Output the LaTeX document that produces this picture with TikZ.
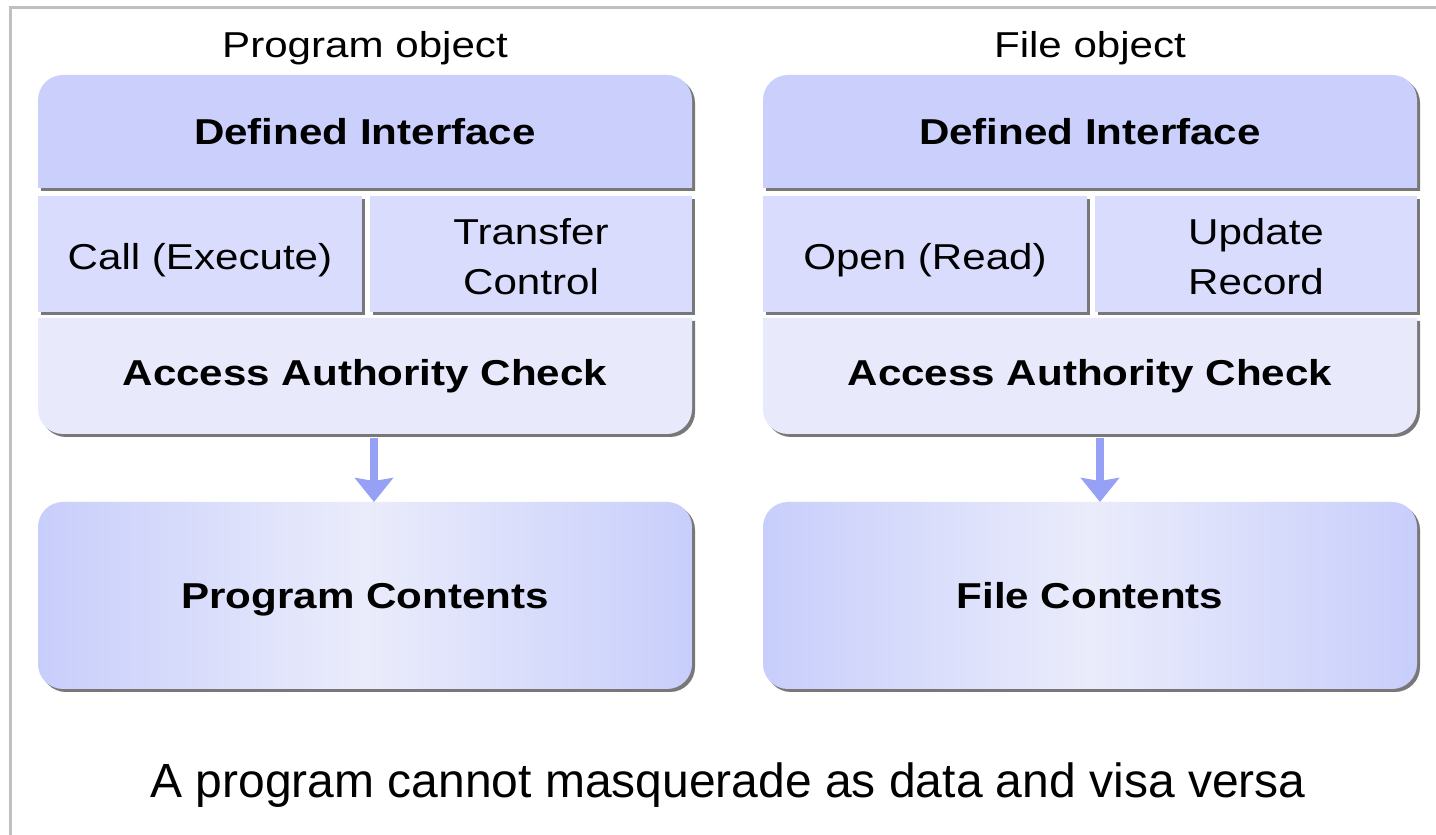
\documentclass[tikz,border=0pt]{standalone}
\usepackage{fontspec}
\setmainfont{Liberation Sans}[FakeStretch=1.17]
\newfontfamily\capfont{Liberation Sans}
\usetikzlibrary{arrows.meta}
\definecolor{framec}{RGB}{192,192,192}
\definecolor{hdrc}{RGB}{202,207,252}
\definecolor{cellc}{RGB}{217,220,252}
\definecolor{accc}{RGB}{232,234,252}
\definecolor{contc}{RGB}{200,206,251}
\definecolor{contm}{RGB}{234,236,251}
\definecolor{shadowc}{RGB}{120,120,120}
\definecolor{arrowc}{RGB}{150,160,245}
\begin{document}
\begin{tikzpicture}[x=1pt,y=1pt,
  shadowed/.style={preaction={fill=shadowc,transform canvas={xshift=3pt,yshift=-3pt}}},
  lbl/.style={inner sep=0pt,font=\fontsize{36}{50}\selectfont,align=center},
  one/.style={text height=25.8pt,text depth=0pt},
  blbl/.style={lbl,one,font=\fontsize{36}{50}\selectfont\bfseries},
  contbox/.style={shadowed,rounded corners=25pt,minimum width=654pt,minimum height=187pt,
    inner sep=0pt,outer sep=0pt,left color=contc,right color=contc,middle color=contm,
    one,font=\fontsize{36}{50}\selectfont\bfseries},
  flow/.style={arrowc,line width=8pt,-{Stealth[length=24pt,width=38pt,inset=3pt]}}]
\useasboundingbox (0,0) rectangle (1436,835);
\draw[framec,line width=3pt] (10.5,0) -- (10.5,827) -- (1436,827);
\foreach \dx in {0,725}{
\begin{scope}[xshift=\dx]
\fill[hdrc,shadowed] (38,647) -- (38,735) arc[start angle=180,end angle=90,radius=25]
  -- (667,760) arc[start angle=90,end angle=0,radius=25] -- (692,647) -- cycle;
\fill[cellc,shadowed] (38,523) rectangle (362,639);
\fill[cellc,shadowed] (370,523) rectangle (692,639);
\fill[accc,shadowed] (38,517) -- (38,426) arc[start angle=180,end angle=270,radius=25]
  -- (667,401) arc[start angle=270,end angle=360,radius=25] -- (692,517) -- cycle;
\end{scope}}
% left object
\node[lbl,one] (ltitle) at (365,790) {Program object};
\node[blbl] (ldef) at (365,703) {Defined Interface};
\node[lbl,one] (lcall) at (200,578) {Call (Execute)};
\node[lbl] (ltrans) at (531,578) {Transfer\\Control};
\node[blbl] (lacc) at (365,462) {Access Authority Check};
\node[contbox] (lcont) at (365,239.5) {Program Contents};
% right object
\node[lbl,one] (rtitle) at (1090,790) {File object};
\node[blbl] (rdef) at (1090,703) {Defined Interface};
\node[lbl,one] (ropen) at (925,578) {Open (Read)};
\node[lbl] (rupd) at (1256,578) {Update\\Record};
\node[blbl] (racc) at (1090,462) {Access Authority Check};
\node[contbox] (rcont) at (1090,239.5) {File Contents};
% arrows
\coordinate (lfrom) at (374,397);
\coordinate (rfrom) at (1100,397);
\draw[flow] (lfrom) -- (lfrom |- lcont.north);
\draw[flow] (rfrom) -- (rfrom |- rcont.north);
% caption
\node[inner sep=0pt,text height=34.4pt,text depth=0pt,font=\capfont\fontsize{48}{56}\selectfont] (cap) at (728,55)
  {A program cannot masquerade as data and visa versa};
\end{tikzpicture}
\end{document}
